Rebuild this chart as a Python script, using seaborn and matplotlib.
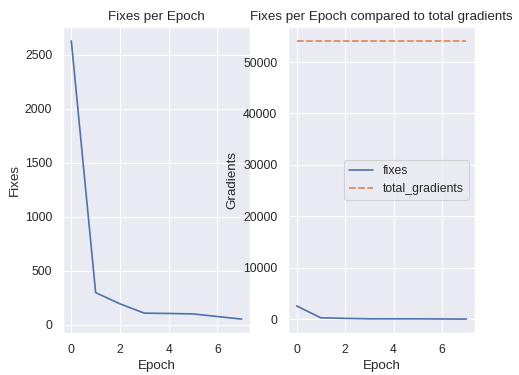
import matplotlib
matplotlib.use("Agg")
import matplotlib.pyplot as plt
import seaborn as sns
import pandas as pd

epochs = [0, 1, 2, 3, 4, 5, 6, 7]
fixes = [2626, 297, 193, 107, 104, 100, 76, 52]
total_gradients = [54100] * 8

sns.set_theme()
plt.rcParams['font.family'] = ['Liberation Sans', 'DejaVu Sans']

fig, axes = plt.subplots(1, 2, figsize=(519 / 80, 375 / 80), dpi=80)
fig.subplots_adjust(left=0.121, right=0.915, top=0.928, bottom=0.112, wspace=0.2)

ax1 = axes[0]
sns.lineplot(x=epochs, y=fixes, ax=ax1)
ax1.set_title("Fixes per Epoch")
ax1.set_xlabel("Epoch")
ax1.set_ylabel("Fixes")

ax2 = axes[1]
df = pd.DataFrame({"fixes": fixes, "total_gradients": total_gradients}, index=pd.Index(epochs, name="Epoch"))
sns.lineplot(data=df, ax=ax2)
ax2.set_title("Fixes per Epoch compared to total gradients")
ax2.set_xlabel("Epoch")
ax2.set_ylabel("Gradients")
ax2.legend(loc="center right")

pos2 = ax2.get_position()
ax2.set_position([0.555, pos2.y0, 0.915 - 0.555, pos2.height])
pos1 = ax1.get_position()
ax1.set_position([0.121, pos1.y0, 0.482 - 0.121, pos1.height])

fig.savefig("out.png", dpi=80)
